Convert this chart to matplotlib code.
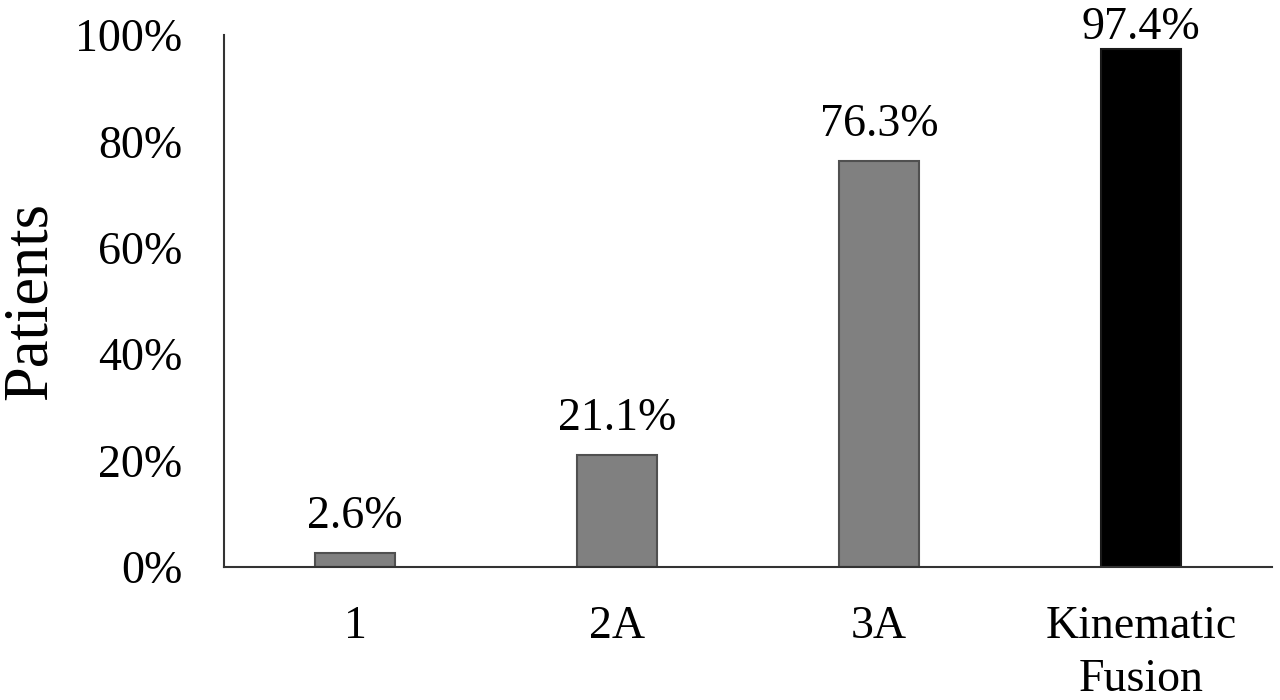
import matplotlib

matplotlib.use("Agg")
import matplotlib.pyplot as plt

categories = ["1", "2A", "3A", "Kinematic\nFusion"]
values = [2.6, 21.1, 76.3, 97.4]
labels = ["2.6%", "21.1%", "76.3%", "97.4%"]
yticks = [0, 20, 40, 60, 80, 100]

_GREY = "#808080"
_GREY_EDGE = "#505050"
_BLACK = "#000000"

plt.rcParams["font.family"] = ["Liberation Serif", "DejaVu Serif"]

fig = plt.figure(figsize=(12.8, 7.0), dpi=100)
ax = fig.add_axes([0.175, 0.19, 0.819, 0.76])

x = range(len(categories))
colors = [_GREY, _GREY, _GREY, _BLACK]
edges = [_GREY_EDGE, _GREY_EDGE, _GREY_EDGE, "#1a1a1a"]
bars = ax.bar(x, values, width=0.305, color=colors, edgecolor=edges, linewidth=1.5)

# the top label sits closer to its bar so it stays inside the figure
offsets = [18, 18, 18, 7]
for b, lab, off in zip(bars, labels, offsets):
    ax.annotate(lab, (b.get_x() + b.get_width() / 2, b.get_height()),
                textcoords="offset points", xytext=(0, off), ha="center",
                va="baseline", fontsize=33)

ax.set_xlim(-0.5, 3.5)
ax.set_ylim(0, 100)
ax.set_xticks(list(x))
ax.set_xticklabels(categories, fontsize=33, linespacing=1.3)
ax.set_yticks(yticks)
ax.set_yticklabels(["{}%".format(t) for t in yticks], fontsize=33)
ax.tick_params(axis="both", length=0)
ax.tick_params(axis="y", pad=30)
ax.tick_params(axis="x", pad=28)
ax.set_ylabel("Patients", fontsize=45, labelpad=11)

for side in ("top", "right"):
    ax.spines[side].set_visible(False)
for side in ("left", "bottom"):
    ax.spines[side].set_linewidth(1.5)
    ax.spines[side].set_color("#333333")

fig.savefig("out.png", dpi=100)
